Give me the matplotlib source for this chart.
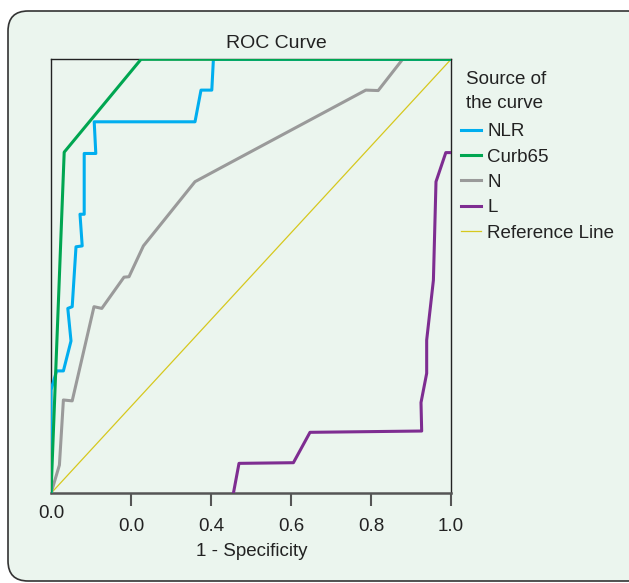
import numpy as np
import matplotlib
matplotlib.use("Agg")
import matplotlib.pyplot as plt
from matplotlib.patches import FancyBboxPatch

plt.rcParams["font.family"] = ["Liberation Sans", "DejaVu Sans"]

# ROC points (1 - specificity, sensitivity)
nlr_x = [0.0, 0.0, 0.014, 0.031, 0.050, 0.042, 0.053, 0.0625, 0.078, 0.0725, 0.083,
         0.083, 0.112, 0.108, 0.36, 0.375, 0.402, 0.406, 1.0]
nlr_y = [0.0, 0.238, 0.282, 0.282, 0.351, 0.426, 0.430, 0.568, 0.570, 0.643, 0.643,
         0.783, 0.783, 0.856, 0.856, 0.929, 0.929, 1.0, 1.0]

curb_x = [0.0, 0.033, 0.225, 1.0]
curb_y = [0.0, 0.786, 1.0, 1.0]

n_x = [0.0, 0.021, 0.031, 0.053, 0.1075, 0.127, 0.1825, 0.195, 0.231, 0.36, 0.4225,
       0.787, 0.818, 0.879, 1.0]
n_y = [0.0, 0.065, 0.215, 0.213, 0.430, 0.426, 0.498, 0.499, 0.570, 0.718, 0.749,
       0.929, 0.928, 1.0, 1.0]

l_x = [0.456, 0.47, 0.606, 0.6475, 0.9267, 0.925, 0.9392, 0.9392, 0.956, 0.9625,
       0.987, 1.0]
l_y = [0.0, 0.069, 0.0705, 0.1405, 0.1435, 0.209, 0.2765, 0.353, 0.491, 0.718,
       0.785, 0.785]

ref_x = [0.0, 1.0]
ref_y = [0.0, 1.0]

tick_pos = [0.2, 0.4, 0.6, 0.8, 1.0]
tick_lab = ["0.0", "0.4", "0.6", "0.8", "1.0"]

W, H = 629, 583
fig = plt.figure(figsize=(W / 100, H / 100), dpi=100)
fig.patch.set_facecolor("white")

bg = "#ebf5ee"
panel = FancyBboxPatch((8 / W, 2 / H), 640 / W, 570 / H,
                       boxstyle="round,pad=0,rounding_size=0.032",
                       transform=fig.transFigure, facecolor=bg,
                       edgecolor="#333333", linewidth=1.2, mutation_aspect=W / H,
                       zorder=-5)
fig.patches.append(panel)

ax = fig.add_axes([51 / W, 1 - 493.3 / H, 400 / W, 434 / H])
ax.set_facecolor(bg)

ax.plot(ref_x, ref_y, color="#d6c81e", lw=0.9, label="Reference Line", zorder=2)
ax.plot(l_x, l_y, color="#7e2d91", lw=2.2, label="L", zorder=3)
ax.plot(n_x, n_y, color="#9a9a9a", lw=2.2, label="N", zorder=3)
ax.plot(nlr_x, nlr_y, color="#00aeef", lw=2.2, label="NLR", zorder=4)
ax.plot(curb_x, curb_y, color="#00a651", lw=2.2, label="Curb65", zorder=5)

ax.set_xlim(0, 1)
ax.set_ylim(0, 1)
ax.set_yticks([])
ax.set_xticks(tick_pos)
ax.set_xticklabels(tick_lab, fontsize=13.5, color="#222222")
ax.tick_params(axis="x", length=9.5, width=1.5, color="#555555", pad=8)
for s in ("left", "top", "right"):
    ax.spines[s].set_color("#222222")
    ax.spines[s].set_linewidth(1.0)
ax.spines["bottom"].set_color("#555555")
ax.spines["bottom"].set_linewidth(1.8)

# lone 0.0 label at the origin sits higher than the others
fig.text(51 / W, 1 - 514 / H, "0.0", ha="center", va="center",
         fontsize=13.5, color="#222222")

fig.text(252 / W, 1 - 551 / H, "1 - Specificity", ha="center", va="center",
         fontsize=13.5, color="#222222")
fig.text(276 / W, 1 - 44 / H, "ROC Curve", ha="center", va="center",
         fontsize=14, color="#222222")

# legend title drawn on its own, entries below
fig.text(466 / W, 1 - 79 / H, "Source of", ha="left", va="center",
         fontsize=13.5, color="#222222")
fig.text(466 / W, 1 - 104 / H, "the curve", ha="left", va="center",
         fontsize=13.5, color="#222222")

h, lab = ax.get_legend_handles_labels()
order = ["NLR", "Curb65", "N", "L", "Reference Line"]
hd = dict(zip(lab, h))
leg = fig.legend([hd[k] for k in order], order,
                 loc="upper left", bbox_to_anchor=(461 / W, 1 - 123 / H),
                 frameon=False, fontsize=13.5,
                 handlelength=1.07, handletextpad=0.32, labelspacing=0.44,
                 borderpad=0, borderaxespad=0)
for t in leg.get_texts():
    t.set_color("#222222")

fig.savefig("out.png", dpi=100, facecolor="white")
